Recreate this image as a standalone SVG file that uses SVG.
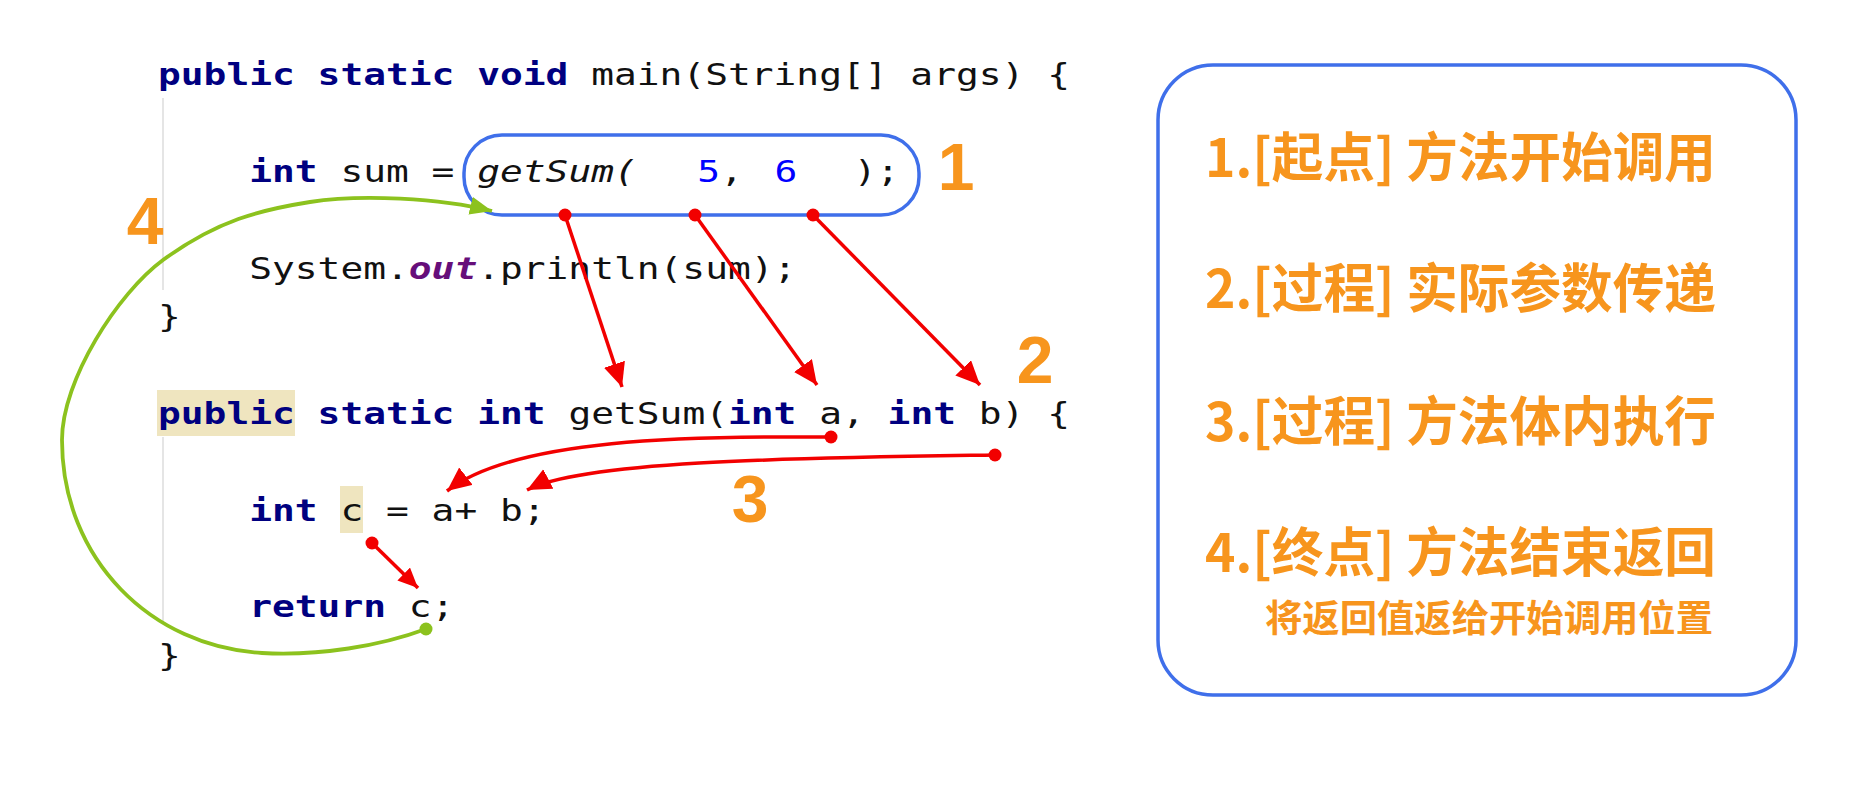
<svg xmlns="http://www.w3.org/2000/svg" width="1862" height="790" viewBox="0 0 1862 790">
<defs>
<style>
.code{font-family:"DejaVu Sans Mono","Liberation Mono",monospace;font-size:30px;fill:#111}
.kw{font-weight:bold;fill:#000080}
.it{font-style:italic}
.num{fill:#0000ff}
.fld{font-weight:bold;font-style:italic;fill:#660e7a}
.step{font-family:"Noto Sans CJK SC","Noto Sans",sans-serif;font-weight:bold;fill:#f7951d}
.big{font-family:"Liberation Sans","Noto Sans",sans-serif;font-weight:bold;font-size:66px;fill:#f7951d;text-anchor:middle}
.hl{fill:#efe5bf}
.gut{stroke:#dcdcdc;stroke-width:1.5}
.red{fill:none;stroke:#f20000;stroke-width:3.5}
.reddot{fill:#f20000}
.green{fill:none;stroke:#8cc21e;stroke-width:3.8}
.blue{fill:none;stroke:#3f6fea;stroke-width:3.5}
</style>
<marker id="redHead" markerUnits="userSpaceOnUse" markerWidth="26" markerHeight="24" refX="24" refY="11" orient="auto"><path d="M0,0 L24,11 L0,22 z" fill="#f20000"/></marker>
<marker id="redHeadS" markerUnits="userSpaceOnUse" markerWidth="22" markerHeight="20" refX="20" refY="9" orient="auto"><path d="M0,0 L20,9 L0,18 z" fill="#f20000"/></marker>
<marker id="greenHead" markerUnits="userSpaceOnUse" markerWidth="24" markerHeight="20" refX="22" refY="9" orient="auto"><path d="M0,0 L22,9 L0,18 z" fill="#8cc21e"/></marker>
</defs>
<rect width="1862" height="790" fill="#ffffff"/>

<g id="gutters">
<line class="gut" x1="163" y1="98" x2="163" y2="290"/>
<line class="gut" x1="163" y1="437" x2="163" y2="624"/>
</g>

<g id="highlights">
<rect class="hl" x="157" y="390" width="138" height="46"/>
<rect class="hl" x="340" y="486" width="23" height="47"/>
</g>

<g id="main-method" transform="translate(158,0) scale(1.2625,1)">
<text class="code" y="85"><tspan class="kw" x="0">public</tspan><tspan class="kw" x="126.42">static</tspan><tspan class="kw" x="252.84">void</tspan><tspan x="343.14">main(String[] args) {</tspan></text>
<text class="code" y="182"><tspan class="kw" x="72.24">int</tspan><tspan x="144.48">sum =</tspan><tspan class="it" x="252.84">getSum(</tspan><tspan class="num" x="427.2">5</tspan><tspan>,</tspan><tspan class="num" x="488.4">6</tspan><tspan x="551">);</tspan></text>
<text class="code" y="278.6"><tspan x="72.24">System.</tspan><tspan class="fld">out</tspan><tspan>.println(sum);</tspan></text>
<text class="code" y="327"><tspan x="0">}</tspan></text>
</g>

<g id="getsum-method" transform="translate(158,0) scale(1.2625,1)">
<text class="code" y="423.8"><tspan class="kw" x="0">public</tspan><tspan class="kw" x="126.42">static</tspan><tspan class="kw" x="252.84">int</tspan><tspan x="325.08">getSum(</tspan><tspan class="kw" x="451.5">int</tspan><tspan x="523.74">a,</tspan><tspan class="kw" x="577.92">int</tspan><tspan x="650.16">b) {</tspan></text>
<text class="code" y="520.6"><tspan class="kw" x="72.24">int</tspan><tspan x="144.48">c = a+ b;</tspan></text>
<text class="code" y="617.4"><tspan class="kw" x="72.24">return</tspan><tspan x="198.66">c;</tspan></text>
<text class="code" y="665.8"><tspan x="0">}</tspan></text>
</g>

<g id="call-box">
<rect class="blue" x="464" y="135" width="455" height="80" rx="38"/>
</g>

<g id="step-numbers">
<text class="big" x="956" y="190">1</text>
<text class="big" x="1035" y="383">2</text>
<text class="big" x="750" y="522">3</text>
<text class="big" x="145" y="244">4</text>
</g>

<g id="connectors">
<path class="red" d="M565,215 L622,387" marker-end="url(#redHead)"/>
<path class="red" d="M695,215 L817,385" marker-end="url(#redHead)"/>
<path class="red" d="M813,215 L980,385" marker-end="url(#redHead)"/>
<path class="red" d="M831,437 C690,436 515,438 447,491" marker-end="url(#redHead)"/>
<path class="red" d="M995,455 C800,458 585,460 527,490" marker-end="url(#redHead)"/>
<path class="red" d="M372,543 L418,588" marker-end="url(#redHeadS)"/>
<circle class="reddot" cx="565" cy="215" r="6.5"/>
<circle class="reddot" cx="695" cy="215" r="6.5"/>
<circle class="reddot" cx="813" cy="215" r="6.5"/>
<circle class="reddot" cx="831" cy="437" r="6.5"/>
<circle class="reddot" cx="995" cy="455" r="6.5"/>
<circle class="reddot" cx="372" cy="543" r="6.5"/>
<path class="green" d="M426,629 C380,646 320,656 262,653 C152,647 62,560 62,440 C62,380 118,293 163,260 C218,220 260,210 310,202 C360,194 440,198 492,211" marker-end="url(#greenHead)"/>
<circle cx="426" cy="629" r="6.5" fill="#8cc21e"/>
</g>

<g id="steps-panel">
<rect class="blue" x="1158" y="65" width="638" height="630" rx="55"/>
<text class="step" x="1205" y="177" font-size="53" textLength="511" lengthAdjust="spacingAndGlyphs">1.[起点] 方法开始调用</text>
<text class="step" x="1205" y="308" font-size="53" textLength="511" lengthAdjust="spacingAndGlyphs">2.[过程] 实际参数传递</text>
<text class="step" x="1205" y="441" font-size="53" textLength="511" lengthAdjust="spacingAndGlyphs">3.[过程] 方法体内执行</text>
<text class="step" x="1205" y="572" font-size="53" textLength="511" lengthAdjust="spacingAndGlyphs">4.[终点] 方法结束返回</text>
<text class="step" x="1265" y="632" font-size="37" textLength="448" lengthAdjust="spacingAndGlyphs">将返回值返给开始调用位置</text>
</g>
</svg>
